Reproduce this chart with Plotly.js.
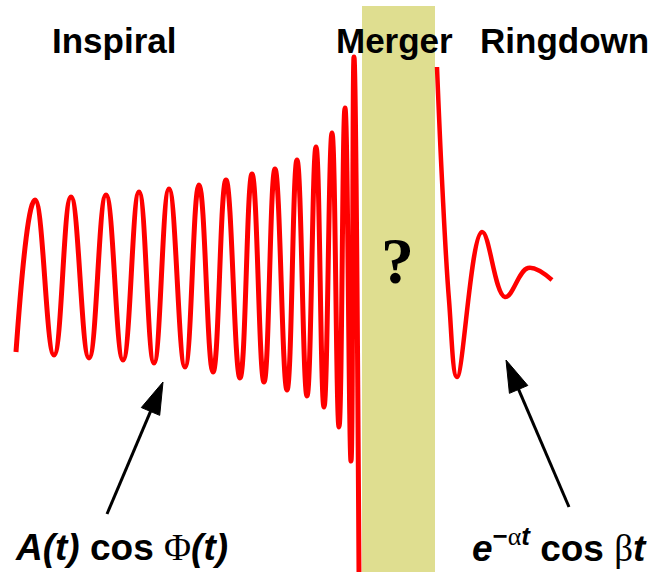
<!DOCTYPE html>
<html>
<head>
<meta charset="utf-8">
<script src="https://cdn.plot.ly/plotly-3.0.1.min.js"></script>
<style>html,body{margin:0;padding:0;background:#fff}#chart{width:660px;height:572px}</style>
</head>
<body>
<div id="chart"></div>
<script>
// ---- data (time t, strain h; arbitrary units) ----
var inspiralT = [16, 35, 54, 71, 89, 106, 123, 139, 154, 169, 185, 199, 213, 226, 240, 252, 264, 275, 287, 297, 307, 316, 324, 332, 339, 345, 351, 354, 359];
var inspiralH = [-75, 77, -78, 80, -81, 82, -83, 85, -86, 88, -90, 92, -95, 97, -101, 103, -105, 108, -113, 117, -119, 130, -130, 144, -150, 169, -184, 220, -295];
var ringdownT = [437, 442, 449, 457, 482, 505, 528, 552];
var ringdownH = [210, 97, -23, -100, 45, -20, 9, -3];
var mergerT = [362, 435];
var phaseLabels = ['Inspiral', 'Merger', 'Ringdown'];
var phaseLabelT = [114, 394, 564];

// ---- layout helpers ----
var H_TOP = 277, H_BOT = -295;
function arrowShapes(tip, tail) {
  var dx = tip[0] - tail[0], dy = tip[1] - tail[1];
  var L = Math.sqrt(dx * dx + dy * dy), ux = dx / L, uy = dy / L;
  var hl = 32, hw = 10;
  var bx = tip[0] - hl * ux, by = tip[1] - hl * uy;
  var px = -uy, py = ux;
  return [
    {type: 'line', xref: 'x', yref: 'y', x0: tail[0], y0: tail[1], x1: bx + 2 * ux, y1: by + 2 * uy,
     line: {color: '#000', width: 3}},
    {type: 'path', xref: 'x', yref: 'y',
     path: 'M' + tip[0] + ',' + tip[1] + ' L' + (bx + hw * px) + ',' + (by + hw * py) +
           ' L' + (bx - hw * px) + ',' + (by - hw * py) + ' Z',
     fillcolor: '#000', line: {color: '#000', width: 1}}
  ];
}

var traces = [
  {x: inspiralT, y: inspiralH, type: 'scatter', mode: 'lines',
   line: {color: '#ff0000', width: 5, shape: 'spline', smoothing: 1.3}, hoverinfo: 'skip'},
  {x: ringdownT, y: ringdownH, type: 'scatter', mode: 'lines',
   line: {color: '#ff0000', width: 4.5, shape: 'spline', smoothing: 1.1}, hoverinfo: 'skip'}
];

var shapes = [
  {type: 'rect', xref: 'x', yref: 'y', x0: mergerT[0], x1: mergerT[1], y0: H_BOT - 5, y1: 271,
   fillcolor: '#dfde90', line: {width: 0}, layer: 'below'}
].concat(arrowShapes([163, -105], [107, -237]))
 .concat(arrowShapes([506, -83], [569, -230]));

var titleFont = {family: 'Liberation Sans, Arial, sans-serif', size: 35, color: '#000', weight: 'bold'};
var annotations = phaseLabels.map(function (lab, i) {
  return {x: phaseLabelT[i], y: 237, xref: 'x', yref: 'y', text: lab, showarrow: false,
          xanchor: 'center', yanchor: 'middle', font: titleFont};
});
var serif = "<span style=\"font-family:'Liberation Serif',serif;font-weight:normal;font-style:normal\">";
var eqFont = {family: 'Liberation Sans, Arial, sans-serif', size: 37, color: '#000', weight: 'bold'};
annotations.push({x: 121, y: -270, xref: 'x', yref: 'y', showarrow: false, xanchor: 'center', yanchor: 'middle',
  text: '<i>A(t)</i> cos ' + serif + 'Φ</span><i>(t)</i>', font: eqFont});
annotations.push({x: 559, y: -268, xref: 'x', yref: 'y', showarrow: false, xanchor: 'center', yanchor: 'middle',
  text: '<i>e</i><sup>−' + serif + 'α</span><i>t</i></sup> cos ' + serif + 'β</span><i>t</i>', font: eqFont});
annotations.push({x: 397, y: 17, xref: 'x', yref: 'y', showarrow: false, xanchor: 'center', yanchor: 'middle',
  text: '?', font: {family: 'Liberation Serif, serif', size: 66, color: '#000', weight: 'bold'}});

var layout = {
  width: 660, height: 572,
  margin: {l: 0, r: 0, t: 0, b: 0, pad: 0},
  paper_bgcolor: '#ffffff', plot_bgcolor: '#ffffff',
  showlegend: false,
  xaxis: {range: [0, 660], visible: false, fixedrange: true},
  yaxis: {range: [H_BOT, H_TOP], visible: false, fixedrange: true},
  shapes: shapes,
  annotations: annotations
};

Plotly.newPlot('chart', traces, layout, {staticPlot: true, displayModeBar: false});
</script>
</body>
</html>
